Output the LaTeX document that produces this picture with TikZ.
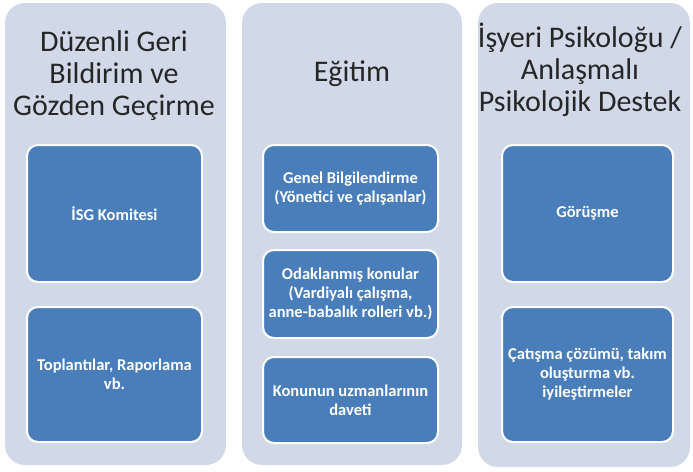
\documentclass[tikz,border=0pt]{standalone}
\usepackage{fontspec}
\setmainfont{Carlito}
\definecolor{panelfill}{HTML}{D1D9E9}
\definecolor{itemfill}{HTML}{4A7EBB}
\tikzset{
  panel/.style={fill=panelfill, rounded corners=20pt, inner sep=0pt},
  paneltitle/.style={align=center, text=black!85, font=\fontsize{30}{32}\selectfont},
  item/.style={fill=itemfill, draw=white, line width=2pt, rounded corners=11pt,
    text=white, align=center, inner sep=0pt, font=\fontsize{16.5}{19}\selectfont\bfseries}
}
\begin{document}
\begin{tikzpicture}[x=1pt, y=-1pt]
  \useasboundingbox (0,0) rectangle (693,471);
  % panels
  \node [panel, minimum width=221pt, minimum height=462pt] (p1) at (115.5, 234) {};
  \node [panel, minimum width=220pt, minimum height=462pt] (p2) at (352, 234) {};
  \node [panel, minimum width=212pt, minimum height=464pt] (p3) at (584, 235) {};
  % titles
  \node [paneltitle] (t1) at (114, 76) {Düzenli Geri\\Bildirim ve\\Gözden Geçirme};
  \node [paneltitle] (t2) at (352, 74) {Eğitim};
  \node [paneltitle] (t3) at (580, 70) {İşyeri Psikoloğu /\\Anlaşmalı\\Psikolojik Destek};
  % first column
  \node [item, minimum width=175pt, minimum height=137pt] (a1) at (114.5, 213.5) {İSG Komitesi};
  \node [item, minimum width=175pt, minimum height=135pt] (a2) at (114.5, 374.5) {Toplantılar, Raporlama\\vb.};
  % second column
  \node [item, minimum width=175pt, minimum height=87pt] (b1) at (350.5, 188.5) {Genel Bilgilendirme\\(Yönetici ve çalışanlar)};
  \node [item, minimum width=175pt, minimum height=88pt] (b2) at (350.5, 294) {Odaklanmış konular\\(Vardiyalı çalışma,\\anne-babalık rolleri vb.)};
  \node [item, minimum width=175pt, minimum height=86pt] (b3) at (350.5, 400) {Konunun uzmanlarının\\daveti};
  % third column
  \node [item, minimum width=171pt, minimum height=137pt] (c1) at (587.5, 213.5) {Görüşme};
  \node [item, minimum width=171pt, minimum height=135pt] (c2) at (587.5, 374.5) {Çatışma çözümü, takım\\oluşturma vb.\\iyileştirmeler};
\end{tikzpicture}
\end{document}
